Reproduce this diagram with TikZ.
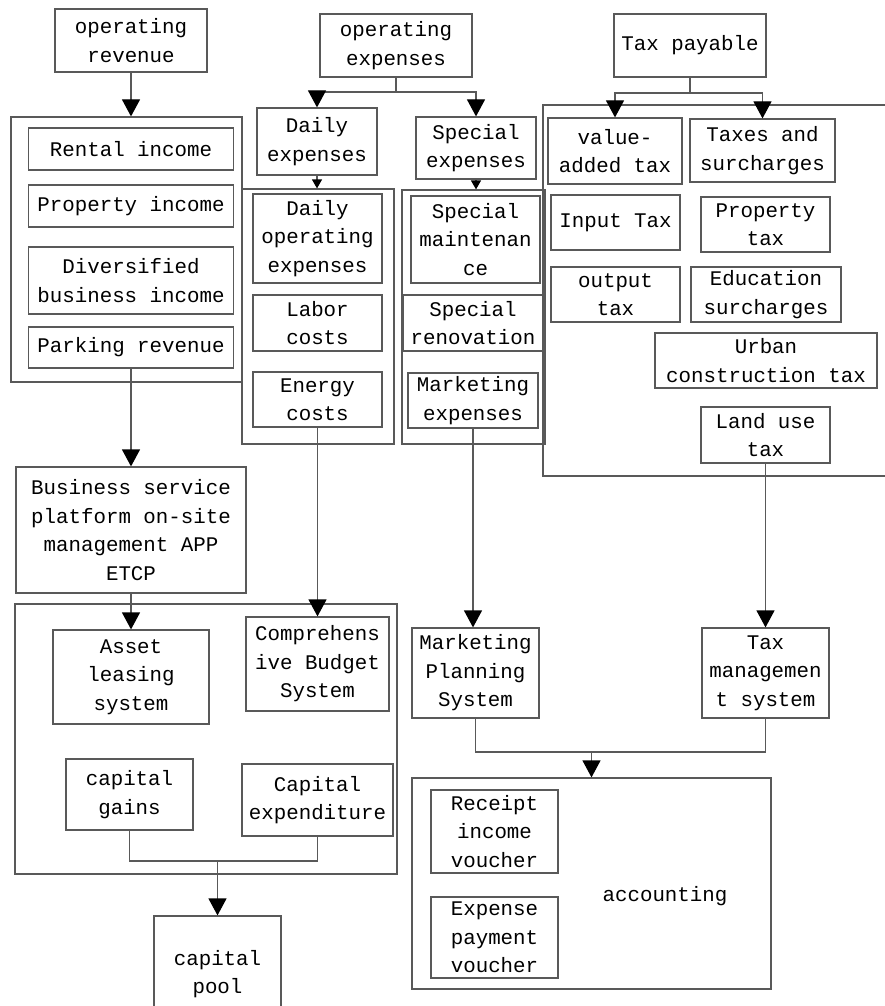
\documentclass[tikz,border=0pt]{standalone}
\usepackage{fontspec}
\setmainfont{Liberation Mono}
\usetikzlibrary{arrows.meta}
\begin{document}
\begin{tikzpicture}[x=1pt,y=-1pt,
    font={\fontsize{20.8}{28.5}\selectfont},
    box/.style={draw=black!65, line width=1.2pt, inner sep=0pt, align=center},
    group/.style={draw=black!65, line width=1.2pt, inner sep=0pt},
    link/.style={draw=black!65, line width=1.2pt},
    arr/.style={link, -{Triangle[length=17pt,width=18pt,color=black]}},
    tip/.style={link, -{Triangle[length=9pt,width=10pt,color=black]}}]
    \useasboundingbox (0,0) rectangle (885,1006);
    \clip (0,0) rectangle (885,1006);
    % revenue column
    \node[box, minimum width=152, minimum height=63] (oprev) at (131,40.5) {operating\\revenue};
    \node[group, minimum width=231, minimum height=265] (revgrp) at (126.5,249.5) {};
    \node[box, minimum width=205, minimum height=42] (rental) at (131,149) {Rental income};
    \node[box, minimum width=205, minimum height=42] (propinc) at (131,206) {Property income};
    \node[box, minimum width=205, minimum height=67] (divers) at (131,280.5) {Diversified\\business income};
    \node[box, minimum width=205, minimum height=41] (parking) at (131,347.5) {Parking revenue};
    \node[box, minimum width=230, minimum height=126] (platform) at (131,530) {Business service\\platform on-site\\management APP\\ETCP};
    \node[group, minimum width=382, minimum height=270] (sysgrp) at (206,739) {};
    \node[box, minimum width=156, minimum height=94] (asset) at (131,677) {Asset\\leasing\\system};
    \node[box, minimum width=143, minimum height=94] (budget) at (317.5,664) {Comprehens\\ive Budget\\System};
    \node[box, minimum width=127, minimum height=71] (capgain) at (129.5,794.5) {capital\\gains};
    \node[box, minimum width=151, minimum height=72] (capexp) at (317.5,800) {Capital\\expenditure};
    \node[box, minimum width=127, minimum height=116] (pool) at (217.5,974) {capital\\pool};
    % expenses column
    \node[box, minimum width=152, minimum height=63] (opexp) at (396,45.5) {operating\\expenses};
    \node[box, minimum width=120, minimum height=67] (dailyexp) at (317,141.5) {Daily\\expenses};
    \node[box, minimum width=120, minimum height=62] (specexp) at (476,148) {Special\\expenses};
    \node[group, minimum width=152, minimum height=255] (dailygrp) at (318,316.5) {};
    \node[box, minimum width=129, minimum height=89] (dailyop) at (317.5,238.5) {Daily\\operating\\expenses};
    \node[box, minimum width=129, minimum height=56] (labor) at (317.5,323) {Labor\\costs};
    \node[box, minimum width=129, minimum height=55] (energy) at (317.5,399.5) {Energy\\costs};
    \node[group, minimum width=143, minimum height=254] (specgrp) at (473.5,317) {};
    \node[box, minimum width=129, minimum height=87] (specmaint) at (475.5,239.5) {Special\\maintenan\\ce};
    \node[box, minimum width=140, minimum height=56] (specrenov) at (473,323) {Special\\renovation};
    \node[box, minimum width=130, minimum height=55] (mktexp) at (473,400.5) {Marketing\\expenses};
    \node[box, minimum width=127, minimum height=90] (mktplan) at (475.5,673) {Marketing\\Planning\\System};
    % tax column
    \node[box, minimum width=152, minimum height=63] (taxpay) at (690,45.5) {Tax payable};
    \node[group, minimum width=347, minimum height=371] (taxgrp) at (716.5,290.5) {};
    \node[box, minimum width=134, minimum height=66] (vat) at (615,151) {value-\\added tax};
    \node[box, minimum width=145, minimum height=63] (taxsur) at (762.5,150.5) {Taxes and\\surcharges};
    \node[box, minimum width=129, minimum height=55] (input) at (615.5,222.5) {Input Tax};
    \node[box, minimum width=129, minimum height=55] (proptax) at (765.5,224.5) {Property\\tax};
    \node[box, minimum width=129, minimum height=55] (output) at (615.5,294.5) {output\\tax};
    \node[box, minimum width=150, minimum height=55] (edu) at (766,294.5) {Education\\surcharges};
    \node[box, minimum width=222, minimum height=55] (urban) at (766,360.5) {Urban\\construction tax};
    \node[box, minimum width=129, minimum height=56] (landuse) at (765.5,435) {Land use\\tax};
    \node[box, minimum width=127, minimum height=90] (taxmgmt) at (765.5,673) {Tax\\managemen\\t system};
    % accounting
    \node[group, minimum width=359, minimum height=211] (acct) at (591.5,883.5) {};
    \node (acctlbl) at (665,896) {accounting};
    \node[box, minimum width=127, minimum height=83] (receipt) at (494.5,831.5) {Receipt\\income\\voucher};
    \node[box, minimum width=127, minimum height=81] (expense) at (494.5,937.5) {Expense\\payment\\voucher};
    % junctions
    \coordinate (opjoin) at (396,92);
    \coordinate (taxjoin) at (690,93);
    \coordinate (capjoin) at (217.5,861);
    \coordinate (acctjoin) at (591.5,752);
    % connectors
    \draw[arr] (oprev.south) -- (oprev.south |- revgrp.north);
    \draw[arr] (parking.south) -- (platform.north);
    \draw[arr] (platform.south) -- (asset.north);
    \draw[link] (opexp.south) -- (opjoin);
    \draw[arr] (opjoin) -| (dailyexp.north);
    \draw[arr] (opjoin) -| (specexp.north);
    \draw[tip] (dailyexp.south) -- (dailyexp.south |- dailygrp.north);
    \draw[tip] (specexp.south) -- (specexp.south |- specgrp.north);
    \draw[arr] (energy.south) -- (energy.south |- budget.north);
    \draw[arr] (mktexp.south) -- (mktexp.south |- mktplan.north);
    \draw[link] (taxpay.south) -- (taxjoin);
    \draw[arr] (taxjoin) -| (vat.north);
    \draw[arr] (taxjoin) -| (taxsur.north);
    \draw[arr] (landuse.south) -- (taxmgmt.north);
    \draw[link] (capgain.south) |- (capjoin) -| (capexp.south);
    \draw[arr] (capjoin) -- (pool.north);
    \draw[link] (mktplan.south) |- (acctjoin) -| (taxmgmt.south);
    \draw[arr] (acctjoin) -- (acct.north);
\end{tikzpicture}
\end{document}
